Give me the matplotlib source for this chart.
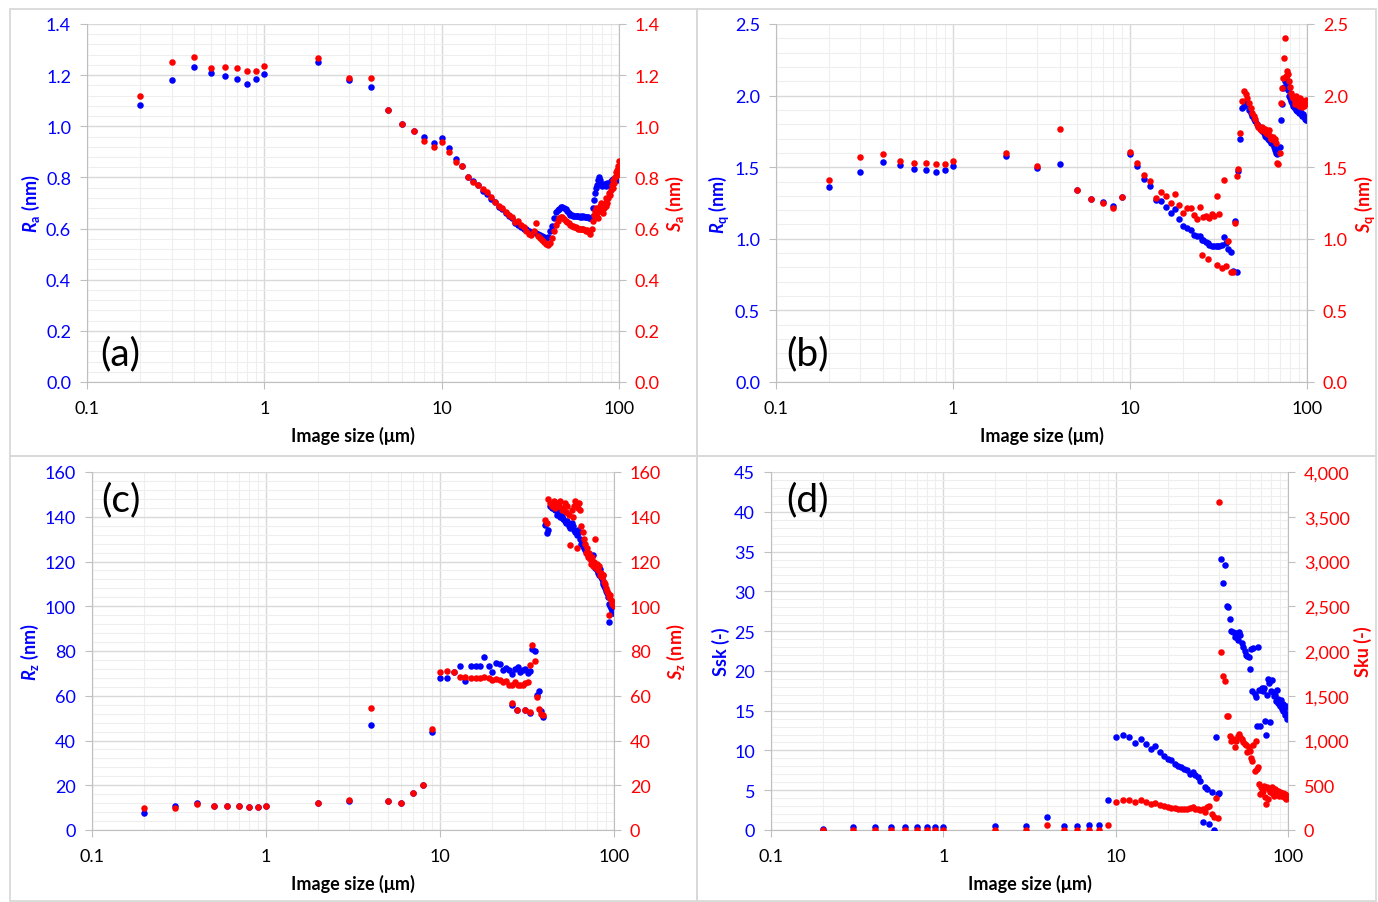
import matplotlib
matplotlib.use('Agg')
import matplotlib.pyplot as plt
from matplotlib.patches import Rectangle
from matplotlib.ticker import MultipleLocator, LogLocator, FixedLocator, FuncFormatter, NullFormatter

plt.rcParams['font.family'] = ['Lato', 'DejaVu Sans']
plt.rcParams['mathtext.fontset'] = 'custom'
plt.rcParams['mathtext.rm'] = 'Lato:bold'
plt.rcParams['mathtext.it'] = 'Lato:italic:bold'

# image sizes (um): small scans then 1 um steps from 10 to 100
size_low = [0.2, 0.3, 0.4, 0.5, 0.6, 0.7, 0.8, 0.9, 1, 2, 3, 4, 5, 6, 7, 8, 9]
size_dense = [10, 11, 12, 13, 14, 15, 16, 17, 18, 19, 20, 21, 22, 23, 24, 25, 26, 27, 28, 29,
              30, 31, 32, 33, 34, 35, 36, 37, 38, 39, 40, 41, 42, 43, 44, 45, 46, 47, 48, 49,
              50, 51, 52, 53, 54, 55, 56, 57, 58, 59, 60, 61, 62, 63, 64, 65, 66, 67, 68, 69,
              70, 71, 72, 73, 74, 75, 76, 77, 78, 79, 80, 81, 82, 83, 84, 85, 86, 87, 88, 89,
              90, 91, 92, 93, 94, 95, 96, 97, 98, 99, 100]

# (a) Ra / Sa (nm)
Ra = [1.085, 1.18, 1.23, 1.21, 1.195, 1.184, 1.167, 1.186, 1.206, 1.25, 1.18, 1.154, 1.065, 1.009, 0.98, 0.957, 0.935,
      .955, .914, .871, .843, .80, .785, .77, .748, .735, .716, .703, .685, .675, .662, .65, .64,
      .62, .615, .608, .60, .598, .592, .588, .585, .582, .579, .575, .572, .568, .565, .566,
      .59, .61, .64, .665, .672, .678, .683, .684, .68, .675, .668, .66, .655, .652, .65,
      .65, .648, .65, .648, .647, .648, .646, .648, .645, .646, .644, .645, .642, .64, .645,
      .68, .71, .74, .76, .77, .79, .80, .79, .775, .765, .77, .775, .77, .765, .775,
      .78, .775, .77, .78, .785, .79, .795, .79, .785, .79, .80, .795, .79, .80, .795]
Sa = [1.12, 1.25, 1.27, 1.228, 1.23, 1.228, 1.215, 1.218, 1.235, 1.267, 1.19, 1.188, 1.065, 1.009, 0.98, 0.944, 0.919,
      .937, .898, .859, .843, .80, .783, .77, .755, .742, .722, .703, .69, .68, .665, .655, .645,
      .625, .631, .613, .605, .59, .58, .575, .59, .622, .57, .565, .555, .548, .54, .535,
      .545, .565, .59, .615, .63, .64, .645, .644, .638, .63, .625, .62, .615, .612, .61,
      .608, .605, .603, .60, .60, .598, .60, .597, .595, .59, .595, .59, .585, .58, .60,
      .63, .655, .67, .68, .66, .64, .67, .69, .70, .67, .66, .68, .70, .72, .69,
      .70, .72, .74, .73, .75, .77, .76, .79, .78, .80, .82, .81, .83, .845, .865]

# (b) Rq / Sq (nm), plus a second lower branch measured at 25-31 um
size_b_extra = [25.6, 27.5, 30.9]
Rq = [1.362, 1.464, 1.538, 1.518, 1.487, 1.478, 1.464, 1.478, 1.508, 1.576, 1.494, 1.522, 1.343, 1.278, 1.259, 1.231, 1.294,
      1.59, 1.51, 1.418, 1.367, 1.271, 1.266, 1.224, 1.18, 1.208, 1.138, 1.087, 1.073, 1.064, 1.026, 1.017, 1.02,
      0.99, 0.98, 0.96, 0.947, 0.95, 0.95, 0.95, 0.96, 1.01, 0.97, 0.93, 0.91, 0.777, 1.126, 0.77, 1.47, 1.70,
      1.91, 1.93, 1.95, 1.94, 1.90, 1.88, 1.86, 1.84, 1.82, 1.80, 1.79, 1.78, 1.77, 1.75, 1.74, 1.72, 1.71, 1.70,
      1.69, 1.68, 1.67, 1.66, 1.64, 1.62, 1.60, 1.59, 1.60, 1.64, 1.83, 1.94, 2.05, 2.06, 2.10, 2.12, 2.08, 2.04,
      2.00, 1.98, 1.96, 1.95, 1.93, 1.92, 1.91, 1.93, 1.90, 1.89, 1.90, 1.88, 1.89, 1.87, 1.88, 1.86, 1.87, 1.85,
      1.85, 1.84, 1.83, 1.83,
      0.99, 0.97, 0.95]
Sq = [1.41, 1.573, 1.592, 1.546, 1.529, 1.529, 1.52, 1.52, 1.546, 1.599, 1.51, 1.77, 1.343, 1.278, 1.25, 1.215, 1.294,
      1.604, 1.529, 1.446, 1.404, 1.283, 1.329, 1.297, 1.25, 1.313, 1.236, 1.18, 1.213, 1.213, 1.166, 1.138, 1.22,
      1.154, 1.16, 1.145, 1.173, 1.16, 1.30, 1.17, 0.794, 1.41, 0.812, 0.987, 0.77, 0.766, 1.11, 1.44, 1.49, 1.74,
      1.96, 2.03, 2.01, 1.98, 1.95, 1.91, 1.88, 1.86, 1.84, 1.80, 1.78, 1.77, 1.76, 1.78, 1.75, 1.77, 1.74, 1.73,
      1.76, 1.72, 1.70, 1.71, 1.69, 1.70, 1.67, 1.53, 1.52, 1.60, 1.95, 2.05, 2.12, 2.26, 2.40, 2.14, 2.17, 2.15,
      2.10, 2.06, 2.02, 2.00, 1.98, 1.99, 1.96, 1.94, 2.00, 1.97, 1.95, 1.93, 1.98, 1.94, 1.97, 1.92, 1.95, 1.93,
      1.96, 1.94, 1.97, 1.95,
      0.887, 0.859, 0.817]

# (c) Rz / Sz (nm), plus a second lower branch at 25-33 um
size_c_extra = [25.8, 27.6, 30.7, 33]
Rz = [7.6, 10.9, 12.1, 10.9, 10.6, 10.9, 10.4, 10.2, 10.6, 11.9, 13.0, 47.1, 13.1, 12.2, 16.4, 20.1, 43.9,
      67.9, 67.9, 70.6, 73.4, 66.7, 73.2, 73.2, 73.2, 77.5, 73.3, 70.6, 74.5, 74.0, 71.6, 72.2, 71.6,
      69.7, 71.9, 72.8, 70.6, 71.5, 72.0, 70.0, 71.0, 81.1, 80.0, 60.3, 62.1, 53.0, 50.6, 136.2,
      132.7, 134, 145, 144, 146, 143, 141, 142, 140, 140.4, 139, 138, 137, 138, 136, 135, 137, 136, 134, 133,
      132, 134, 133, 130, 128, 127, 126, 125, 125.6, 124, 123, 122, 123, 121, 120, 123, 119, 117, 118, 116,
      115, 114, 116.6, 113, 112, 111, 110, 109, 108, 107, 106, 104, 93, 101, 100, 99, 98, 97, 98, 97,
      56.0, 53.5, 53.5, 52.5]
Sz = [9.8, 9.8, 11.6, 10.9, 10.6, 10.9, 10.4, 10.2, 10.6, 11.9, 13.4, 54.4, 13.1, 12.2, 16.4, 20.1, 45.1,
      70.8, 71.2, 70.6, 68.6, 68.2, 67.8, 67.8, 67.8, 68.4, 67.8, 67.2, 67.5, 67.2, 66.2, 66.8, 64.6,
      65.0, 66.0, 64.6, 65.0, 64.6, 65.5, 66.0, 73.6, 82.9, 75.6, 59.6, 54.0, 52.0, 51.4, 138.4,
      137, 148, 146, 145, 147, 144, 146, 145, 147, 143, 144, 146, 142, 145, 141, 127.4, 143, 140, 145, 147,
      126, 144, 146, 143, 136, 133, 130, 128, 124, 126, 122, 124, 121, 119, 122, 118, 120, 130, 117, 119,
      116, 118, 114, 115, 113, 114, 113.8, 111, 110, 108, 107, 106, 96, 104, 104.9, 103, 102, 101, 102, 100,
      56.6, 53.8, 53.8, 52.9]

# (d) Ssk / Sku (-)
Ssk = [0.1, 0.33, 0.33, 0.33, 0.33, 0.33, 0.33, 0.33, 0.33, 0.55, 0.55, 1.59, 0.45, 0.45, 0.6, 0.6, 3.81,
       11.65, 12.0, 11.7, 10.9, 11.4, 10.8, 10.2, 10.6, 9.8, 9.3, 8.9, 8.8, 8.3, 8.1, 7.9, 7.7, 7.5, 7.0, 7.3, 6.9,
       6.7, 6.2, 1.0, 5.4, 5.2, 0.8, 4.8, 0.0, 11.7, 4.5, 4.6, 34.1, 31.1, 33.3, 28.2, 28.0, 26.5, 25.0, 24.9, 24.2,
       24.7, 23.9, 24.9, 24.5, 23.5, 23.0, 22.5, 22.0, 21.9, 21.7, 20.3, 22.7, 17.5, 22.9, 17.1, 16.7, 13.1, 23.0,
       17.6, 13.1, 17.6, 17.8, 17.5, 17.8, 13.7, 11.9, 17.0, 19.0, 18.5, 13.6, 17.5, 18.8, 17.3, 16.8, 17.0, 16.2,
       17.6, 16.0, 16.5, 15.8, 15.6, 16.3, 15.2, 15.8, 14.9, 15.0, 14.4, 15.6, 14.6, 13.9, 15.4]
Sku = [3, 3, 3, 3, 3, 3, 3, 3, 3, 3, 3, 56, 3, 3, 3, 3, 59,
       316, 339, 339, 316, 330, 309, 290, 302, 280, 272, 253, 250, 242, 235, 240, 235, 235, 245, 253, 235,
       240, 227, 230, 198, 253, 266, 179, 142, 354, 131, 3660, 1992, 1724, 1668, 1277, 1270, 1054, 998, 1020, 924,
       1000, 1054, 1072, 1040, 1020, 980, 960, 950, 868, 924, 887, 808, 774, 950, 663, 1000, 685, 700,
       514, 402, 481, 421, 440, 495, 370, 290, 481, 346, 462, 421, 440, 480, 402, 383, 460, 420,
       440, 400, 440, 383, 420, 400, 380, 410, 390, 370, 400, 360, 346, 380, 383]

BLUE = '#0000ff'
RED = '#ff0000'
GRID_MAJ = '#d9d9d9'
GRID_MIN = '#eeeeee'
AXC = '#bfbfbf'

fig = plt.figure(figsize=(13.78, 9.03), dpi=100)

# chart borders (Excel style)
W, H = 1378.0, 903.0
for (x0, y0, x1, y1) in [(10, 10, 697, 457), (697, 10, 1376, 457), (10, 457, 697, 902), (697, 457, 1376, 902)]:
    fig.patches.append(Rectangle((x0 / W, 1 - y1 / H), (x1 - x0) / W, (y1 - y0) / H,
                                 transform=fig.transFigure, fill=False, ec='#d9d9d9', lw=1.3))

panels = [
    # rect, x, left, right, ylim left, ylim right, major, minor, left fmt, right fmt, labels, tag, tag pos
    ([87, 25, 619, 383], size_low + size_dense, Ra, Sa, (0, 1.4), (0, 1.4), 0.2, 0.04, '{:.1f}', '{:.1f}',
     r'$R_\mathrm{a}$ (nm)', r'$S_\mathrm{a}$ (nm)', '(a)', (0.024, 0.05, 'baseline')),
    ([776, 25, 1307, 383], size_low + size_dense + size_b_extra, Rq, Sq, (0, 2.5), (0, 2.5), 0.5, 0.1, '{:.1f}', '{:.1f}',
     r'$R_\mathrm{q}$ (nm)', r'$S_\mathrm{q}$ (nm)', '(b)', (0.02, 0.05, 'baseline')),
    ([92, 473, 614, 831], size_low + size_dense + size_c_extra, Rz, Sz, (0, 160), (0, 160), 20, 4, '{:.0f}', '{:.0f}',
     r'$R_\mathrm{z}$ (nm)', r'$S_\mathrm{z}$ (nm)', '(c)', (0.017, 0.975, 'top')),
    ([771, 473, 1288, 831], size_low + size_dense, Ssk, Sku, (0, 45), (0, 4000), 5, 1, '{:.0f}', '{:,.0f}',
     'Ssk (-)', 'Sku (-)', '(d)', (0.03, 0.975, 'top')),
]

for rect, xs, left, right, yl, yr, major, minor, lf, rf, llab, rlab, tag, tpos in panels:
    x0, y0, x1, y1 = rect
    ax = fig.add_axes([x0 / W, 1 - y1 / H, (x1 - x0) / W, (y1 - y0) / H])
    ax2 = ax.twinx()

    ax.set_xscale('log')
    ax.set_xlim(0.1, 100)
    ax.set_ylim(*yl)
    ax2.set_ylim(*yr)

    ax.scatter(xs, left, s=22, color=BLUE, linewidths=0, zorder=3)
    ax2.scatter(xs, right, s=22, color=RED, linewidths=0, zorder=3)

    ax.xaxis.set_major_locator(FixedLocator([0.1, 1, 10, 100]))
    ax.xaxis.set_major_formatter(FuncFormatter(lambda v, p: '{:g}'.format(v)))
    ax.xaxis.set_minor_locator(LogLocator(base=10, subs=(2, 3, 4, 5, 6, 7, 8, 9)))
    ax.xaxis.set_minor_formatter(NullFormatter())
    ax.yaxis.set_major_locator(MultipleLocator(major))
    ax.yaxis.set_minor_locator(MultipleLocator(minor))
    ax.yaxis.set_major_formatter(FuncFormatter(lambda v, p, f=lf: f.format(v)))
    rmajor = 500 if yr[1] == 4000 else major
    ax2.yaxis.set_major_locator(MultipleLocator(rmajor))
    ax2.yaxis.set_major_formatter(FuncFormatter(lambda v, p, f=rf: f.format(v)))

    ax.grid(which='major', color=GRID_MAJ, lw=1.0)
    ax.grid(which='minor', color=GRID_MIN, lw=0.8)
    ax.set_axisbelow(True)

    for s in ['top', 'right']:
        ax.spines[s].set_visible(False)
    for s in ['left', 'bottom']:
        ax.spines[s].set_color(AXC)
    for s in ['top', 'left', 'bottom']:
        ax2.spines[s].set_visible(False)
    ax2.spines['right'].set_color(AXC)

    ax.tick_params(axis='both', which='major', length=5, color=AXC, labelsize=13)
    ax.tick_params(axis='x', which='major', pad=8)
    ax.tick_params(axis='y', which='major', pad=6.5, labelcolor=BLUE)
    ax.tick_params(axis='both', which='minor', length=0)
    ax2.tick_params(axis='y', length=5, color=AXC, labelsize=13, labelcolor=RED, pad=6.5)

    ax.set_xlabel('Image size (μm)', fontsize=13, fontweight='bold', labelpad=7)
    ax.set_ylabel(llab, fontsize=13, fontweight='bold', color=BLUE, labelpad=3)
    ax2.set_ylabel(rlab, fontsize=13, fontweight='bold', color=RED, labelpad=3)

    ax.text(tpos[0], tpos[1], tag, transform=ax.transAxes, fontsize=28, va=tpos[2], ha='left', zorder=5)

fig.savefig('out.png', dpi=100)
